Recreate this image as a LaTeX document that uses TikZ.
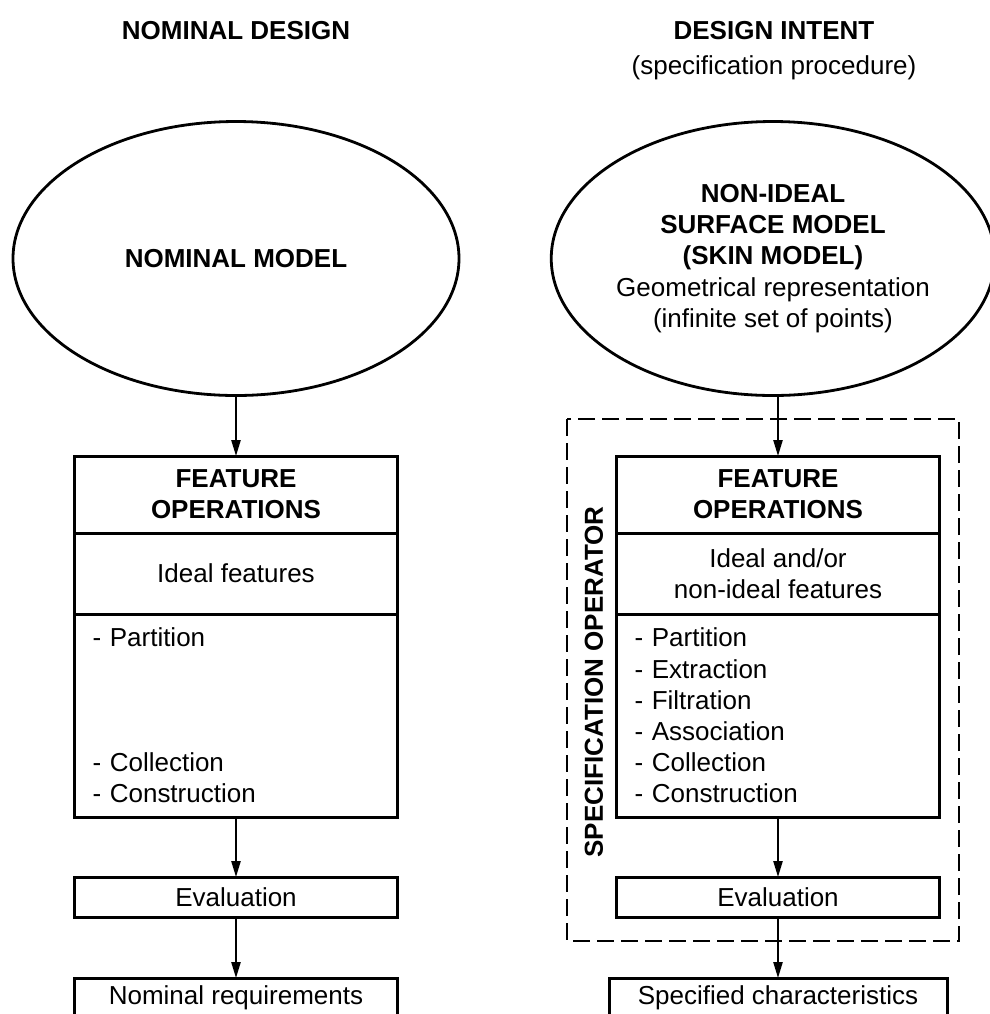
\documentclass[tikz,border=0pt]{standalone}
\usepackage{fontspec}
\setmainfont{Liberation Sans}
\usetikzlibrary{arrows.meta,positioning,shapes.geometric}

\begin{document}
\begin{tikzpicture}[x=0.5pt,y=-0.5pt,>={Triangle[length=8pt,width=4.6pt]},
  font=\fontsize{13}{15.6}\selectfont,
  model/.style={ellipse,draw,line width=1.4pt,minimum width=223pt,
    minimum height=137pt,inner sep=0pt,align=center},
  part/.style={draw,line width=1.5pt,outer sep=0pt,minimum width=161.5pt,
    inner sep=0pt,align=center},
  oplist/.style={part,align=left,text width=143.5pt,inner xsep=9pt},
  flow/.style={->,line width=0.9pt},
  head/.style={font=\fontsize{13}{15.6}\selectfont\bfseries}]

\useasboundingbox (0,0) rectangle (990,1014);
\clip (0,0) rectangle (990,1014);

% Column headings.
\node[head] (ndes) at (236,31) {NOMINAL DESIGN};
\node[head] (dint) at (774,31) {DESIGN INTENT};
\node (proc) at (774,68) {(specification procedure)};

% Models.
\node[model,head] (nom) at (236,258.5) {NOMINAL MODEL};
\node[model,minimum width=217.5pt] (skin) at (773,258.5)
  {\textbf{NON-IDEAL}\\\textbf{SURFACE MODEL}\\\textbf{(SKIN MODEL)}\\
   Geometrical representation\\(infinite set of points)};

% Nominal design column.
\node[part,head,minimum height=38.5pt] (ftl) at (236,494.5)
  {FEATURE\\OPERATIONS};
\node[part,minimum height=40.5pt,below=0pt of ftl] (idl) {Ideal features};
\node[oplist,minimum height=101.5pt,below=0pt of idl] (opl)
  {- Partition\\\mbox{}\\\mbox{}\\\mbox{}\\- Collection\\- Construction};
\node[part,minimum height=20pt,below=30pt of opl] (evl) {Evaluation};
\node[part,minimum height=20pt,below=30.5pt of evl] (req)
  {Nominal requirements};

% Design intent column.
\node[part,head,minimum height=38.5pt] (ftr) at (778,494.5)
  {FEATURE\\OPERATIONS};
\node[part,minimum height=40.5pt,below=0pt of ftr] (idr)
  {Ideal and/or\\non-ideal features};
\node[oplist,minimum height=101.5pt,below=0pt of idr] (opr)
  {- Partition\\- Extraction\\- Filtration\\- Association\\
   - Collection\\- Construction};
\node[part,minimum height=20pt,below=30pt of opr] (evr) {Evaluation};
\node[part,minimum height=20pt,minimum width=169pt,below=30.5pt of evr] (spc)
  {Specified characteristics};

% Specification operator frame.
\draw[line width=0.9pt,dash pattern=on 8.5pt off 3.5pt] (567,419) rectangle (959,941);
\node[head,rotate=90] (specop) at (594,682) {SPECIFICATION OPERATOR};

% Connectors.
\draw[flow] (nom) -- (ftl);
\draw[flow] (opl) -- (evl);
\draw[flow] (evl) -- (req);
\draw[flow] (skin.south -| ftr.north) -- (ftr.north);
\draw[flow] (opr) -- (evr);
\draw[flow] (evr) -- (evr |- spc.north);

\end{tikzpicture}
\end{document}
